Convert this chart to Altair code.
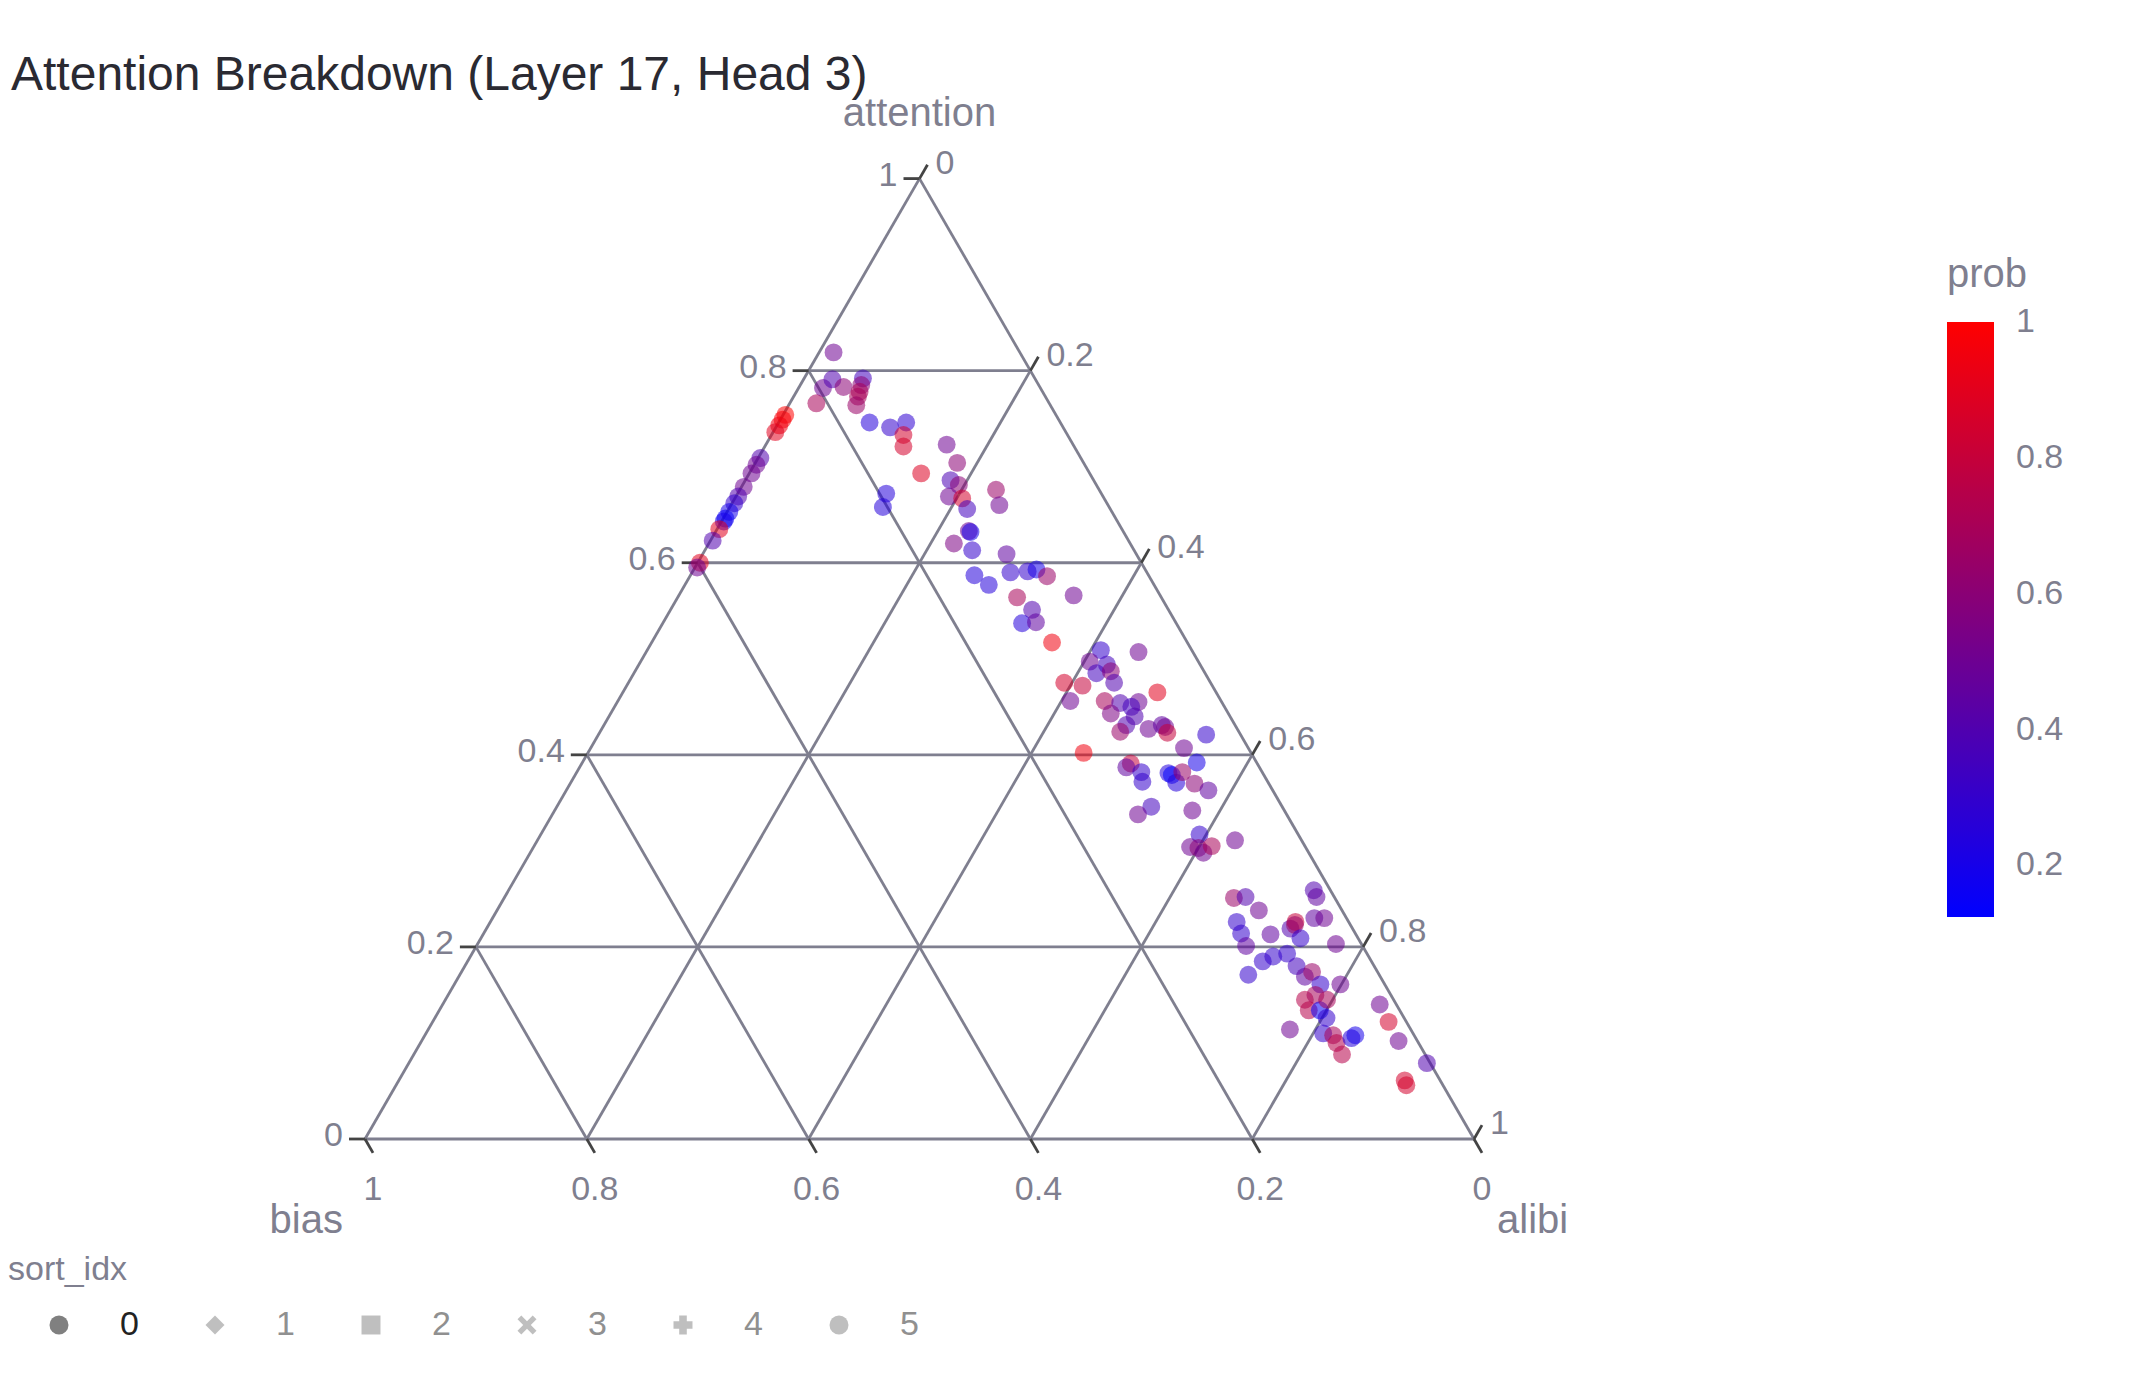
import math
import altair as alt
import pandas as pd

# ---------------- data ----------------
attention = [
    # points along the bias/attention edge
    0.754, 0.749, 0.743, 0.736, 0.709, 0.702, 0.693, 0.679, 0.669, 0.662,
    0.653, 0.646, 0.643, 0.635, 0.623, 0.600, 0.595,
    # upper group
    0.819, 0.782, 0.791, 0.783, 0.766, 0.792, 0.785, 0.778, 0.773, 0.764,
    0.746, 0.741, 0.746, 0.733, 0.721, 0.693, 0.672, 0.658,
    # second group
    0.723, 0.704, 0.686, 0.681, 0.669, 0.667, 0.656, 0.676, 0.660, 0.633,
    0.632, 0.620, 0.613, 0.609, 0.587, 0.577, 0.590, 0.591, 0.593, 0.586,
    0.564, 0.566, 0.551, 0.537, 0.538, 0.517,
    # middle group
    0.509, 0.507, 0.497, 0.494, 0.485, 0.487, 0.475, 0.475, 0.472, 0.465,
    0.456, 0.456, 0.454, 0.455, 0.450, 0.443, 0.440, 0.431, 0.424, 0.427,
    0.431, 0.429, 0.423, 0.421, 0.402, 0.407, 0.392, 0.391, 0.387, 0.382,
    0.372, 0.381, 0.379, 0.371, 0.382, 0.370, 0.363, 0.346, 0.338, 0.342,
    0.317, 0.304, 0.303, 0.298, 0.305, 0.311,
    # lower group
    0.251, 0.252, 0.238, 0.259, 0.252, 0.226, 0.214, 0.201, 0.213, 0.219,
    0.226, 0.223, 0.209, 0.230, 0.230, 0.203, 0.171, 0.185, 0.190, 0.193,
    0.180, 0.169, 0.174, 0.161, 0.161, 0.145, 0.150, 0.134, 0.134, 0.145,
    0.126, 0.114, 0.110, 0.108, 0.100, 0.088, 0.105, 0.108, 0.140, 0.122,
    0.102, 0.079, 0.061, 0.056,
]
alibi = [
    0.002, 0.002, 0.002, 0.002, 0.002, 0.002, 0.002, 0.002, 0.002, 0.002,
    0.002, 0.002, 0.002, 0.002, 0.002, 0.002, 0.002,
    0.013, 0.022, 0.026, 0.040, 0.024, 0.053, 0.055, 0.057, 0.058, 0.061,
    0.082, 0.103, 0.115, 0.119, 0.125, 0.155, 0.134, 0.138,
    0.163, 0.182, 0.185, 0.195, 0.192, 0.205, 0.215, 0.231, 0.242, 0.228,
    0.230, 0.221, 0.241, 0.274, 0.256, 0.274, 0.287, 0.302, 0.309, 0.322,
    0.306, 0.356, 0.326, 0.324, 0.336, 0.361,
    0.409, 0.444, 0.405, 0.422, 0.417, 0.429, 0.438, 0.393, 0.411, 0.482,
    0.408, 0.439, 0.454, 0.470, 0.466, 0.451, 0.474, 0.471, 0.469, 0.493,
    0.503, 0.507, 0.512, 0.548, 0.447, 0.535, 0.554, 0.495, 0.493, 0.509,
    0.515, 0.534, 0.538, 0.546, 0.546, 0.563, 0.579, 0.536, 0.528, 0.575,
    0.594, 0.592, 0.600, 0.607, 0.611, 0.629,
    0.658, 0.668, 0.687, 0.726, 0.732, 0.673, 0.683, 0.694, 0.710, 0.725,
    0.726, 0.727, 0.739, 0.741, 0.750, 0.774, 0.711, 0.717, 0.724, 0.735,
    0.750, 0.763, 0.767, 0.781, 0.799, 0.775, 0.782, 0.784, 0.794, 0.795,
    0.804, 0.777, 0.809, 0.819, 0.826, 0.837, 0.837, 0.839, 0.845, 0.862,
    0.881, 0.918, 0.907, 0.911,
]
prob = [
    1.00, 0.97, 0.95, 0.90, 0.40, 0.50, 0.50, 0.50, 0.40, 0.30,
    0.20, 0.15, 0.20, 0.90, 0.40, 0.90, 0.50,
    0.50, 0.50, 0.40, 0.60, 0.70, 0.35, 0.60, 0.70, 0.70, 0.65,
    0.25, 0.30, 0.28, 0.85, 0.85, 0.88, 0.25, 0.25,
    0.50, 0.60, 0.38, 0.60, 0.50, 0.85, 0.35, 0.65, 0.50, 0.50,
    0.20, 0.55, 0.30, 0.45, 0.25, 0.25, 0.30, 0.30, 0.20, 0.65,
    0.70, 0.50, 0.40, 0.25, 0.45, 0.95,
    0.30, 0.50, 0.50, 0.35, 0.35, 0.60, 0.40, 0.85, 0.80, 0.90,
    0.50, 0.70, 0.40, 0.50, 0.35, 0.55, 0.40, 0.40, 0.65, 0.50,
    0.45, 0.50, 0.80, 0.30, 0.95, 0.50, 0.20, 0.80, 0.45, 0.30,
    0.30, 0.25, 0.124, 0.25, 0.65, 0.60, 0.45, 0.35, 0.50, 0.50,
    0.30, 0.50, 0.60, 0.50, 0.70, 0.50,
    0.65, 0.40, 0.50, 0.40, 0.45, 0.30, 0.30, 0.45, 0.45, 0.40,
    0.80, 0.65, 0.30, 0.45, 0.50, 0.50, 0.30, 0.30, 0.30, 0.30,
    0.35, 0.45, 0.65, 0.30, 0.50, 0.75, 0.70, 0.75, 0.15, 0.70,
    0.30, 0.50, 0.30, 0.70, 0.75, 0.75, 0.25, 0.20, 0.50, 0.85,
    0.50, 0.40, 0.85, 0.85,
]
sort_idx = ["0"] * len(attention)

axis_ticks = [0.0, 0.2, 0.4, 0.6, 0.8, 1.0]
tick_labels = ["0", "0.2", "0.4", "0.6", "0.8", "1"]
grid_values = [0.2, 0.4, 0.6, 0.8]
prob_ticks = [0.2, 0.4, 0.6, 0.8, 1.0]
legend_ids = ["0", "1", "2", "3", "4", "5"]
X_PATH = ("M-1,-0.6L-0.6,-1L0,-0.4L0.6,-1L1,-0.6L0.4,0"
          "L1,0.6L0.6,1L0,0.4L-0.6,1L-1,0.6L-0.4,0Z")
legend_shapes = ["circle", "diamond", "square", X_PATH, "cross", "circle"]
axis_names = ["attention", "bias", "alibi"]
chart_title = "Attention Breakdown (Layer 17, Head 3)"

# ---------------- layout / style ----------------
FONT = "Liberation Sans"
GRAY = "#7f7f8f"
TICK = "#444444"
DARK = "#2a2a32"
MARGIN = 8
W, H = 2126, 1364
X0, Y0, SIDE = 365.0, 1139.0, 1109.0     # triangle bottom-left corner and side (page px)
R3 = math.sqrt(3) / 2
TL = 16.0 / SIDE                          # tick length in ternary units


def to_xy(a, c):
    return c + a / 2.0, a * R3


x_scale = alt.Scale(domain=[(MARGIN - X0) / SIDE, (MARGIN + W - X0) / SIDE], nice=False, zero=False)
y_scale = alt.Scale(domain=[(Y0 - MARGIN - H) / SIDE, (Y0 - MARGIN) / SIDE], nice=False, zero=False)
X = alt.X("x:Q", scale=x_scale, axis=None)
Y = alt.Y("y:Q", scale=y_scale, axis=None)

# ---------------- frames ----------------
pts = pd.DataFrame({"attention": attention, "alibi": alibi, "prob": prob, "sort_idx": sort_idx})
pts["bias"] = 1 - pts["attention"] - pts["alibi"]
pts["x"] = pts["alibi"] + pts["attention"] / 2.0
pts["y"] = pts["attention"] * R3


def seg(p, q):
    return {"x": p[0], "y": p[1], "x2": q[0], "y2": q[1]}


grid_rows = []
for v in grid_values:
    grid_rows.append(seg(to_xy(v, 0), to_xy(v, 1 - v)))      # attention = v
    grid_rows.append(seg(to_xy(0, 1 - v), to_xy(1 - v, 0)))  # bias = v
    grid_rows.append(seg(to_xy(0, v), to_xy(1 - v, v)))      # alibi = v
grid_rows.append(seg(to_xy(0, 0), to_xy(0, 1)))
grid_rows.append(seg(to_xy(0, 0), to_xy(1, 0)))
grid_rows.append(seg(to_xy(0, 1), to_xy(1, 0)))
grid_df = pd.DataFrame(grid_rows)

tick_rows, att_lab, bias_lab, alibi_lab = [], [], [], []
for v, lab in zip(axis_ticks, tick_labels):
    pa = to_xy(v, 0)
    tick_rows.append(seg(pa, (pa[0] - TL, pa[1])))
    att_lab.append({"x": pa[0], "y": pa[1], "label": lab})
    pb = to_xy(0, 1 - v)
    tick_rows.append(seg(pb, (pb[0] + TL * 0.5, pb[1] - TL * R3)))
    bias_lab.append({"x": pb[0], "y": pb[1], "label": lab})
    pc = to_xy(1 - v, v)
    tick_rows.append(seg(pc, (pc[0] + TL * 0.5, pc[1] + TL * R3)))
    alibi_lab.append({"x": pc[0], "y": pc[1], "label": lab})
tick_df = pd.DataFrame(tick_rows)

corner = [to_xy(1, 0), to_xy(0, 0), to_xy(0, 1)]
titles_df = [pd.DataFrame([{"x": corner[i][0], "y": corner[i][1], "label": axis_names[i]}]) for i in range(3)]

# ---------------- layers ----------------
grid = alt.Chart(grid_df).mark_rule(color=GRAY, strokeWidth=2.8).encode(x=X, y=Y, x2="x2:Q", y2="y2:Q")
ticks = alt.Chart(tick_df).mark_rule(color=TICK, strokeWidth=2.8).encode(x=X, y=Y, x2="x2:Q", y2="y2:Q")

txt = dict(fontSize=34, color=GRAY, baseline="alphabetic")
att_text = alt.Chart(pd.DataFrame(att_lab)).mark_text(align="right", dx=-22, dy=7, **txt).encode(x=X, y=Y, text="label:N")
bias_text = alt.Chart(pd.DataFrame(bias_lab)).mark_text(align="center", dx=8, dy=61, **txt).encode(x=X, y=Y, text="label:N")
alibi_text = alt.Chart(pd.DataFrame(alibi_lab)).mark_text(align="left", dx=16, dy=-5, **txt).encode(x=X, y=Y, text="label:N")

ttl = dict(fontSize=40, color=GRAY, baseline="alphabetic")
att_title = alt.Chart(titles_df[0]).mark_text(align="center", dy=-53, **ttl).encode(x=X, y=Y, text="label:N")
bias_title = alt.Chart(titles_df[1]).mark_text(align="right", dx=-22, dy=94, **ttl).encode(x=X, y=Y, text="label:N")
alibi_title = alt.Chart(titles_df[2]).mark_text(align="left", dx=23, dy=94, **ttl).encode(x=X, y=Y, text="label:N")

points = alt.Chart(pts).mark_point(filled=True, size=320, opacity=1, fillOpacity=0.55, strokeWidth=0).encode(
    x=X,
    y=Y,
    color=alt.Color(
        "prob:Q",
        scale=alt.Scale(domain=[0.124, 1.0005], range=["#0000ff", "#ff0000"], interpolate="rgb"),
        legend=alt.Legend(
            title="prob", orient="none", direction="vertical", legendX=1939, legendY=247,
            gradientLength=595, gradientThickness=47, gradientStrokeWidth=0,
            values=prob_ticks, format="~g", labelOverlap=False,
            labelFontSize=34, labelColor=GRAY, labelOffset=22,
            titleFontSize=40, titleColor=GRAY, titleFontWeight="normal", titlePadding=27, padding=0,
        ),
    ),
    shape=alt.Shape(
        "sort_idx:N",
        scale=alt.Scale(domain=legend_ids, range=legend_shapes),
        legend=alt.Legend(
            title="sort_idx", orient="none", direction="horizontal", legendX=0, legendY=1245,
            symbolSize=360, symbolOffset=34, symbolFillColor="#808080", symbolStrokeWidth=0,
            symbolOpacity=alt.ExprRef(expr="datum.value == '0' ? 1 : 0.5"),
            labelColor=alt.ExprRef(expr="datum.value == '0' ? '#222222' : '#909090'"),
            labelFontSize=34, labelOffset=44, columnPadding=25,
            titleFontSize=34, titleColor=GRAY, titleFontWeight="normal", titlePadding=21, padding=0,
        ),
    ),
    tooltip=["attention:Q", "bias:Q", "alibi:Q", "prob:Q"],
)

title = alt.Chart(pd.DataFrame({"label": [chart_title]})).mark_text(
    align="left", baseline="alphabetic", fontSize=48, color=DARK
).encode(x=alt.value(3), y=alt.value(82), text="label:N")

chart = alt.layer(
    grid, ticks, att_text, bias_text, alibi_text, att_title, bias_title, alibi_title, points, title
).properties(
    width=W, height=H, padding=0, autosize=alt.AutoSizeParams(type="none")
).configure(font=FONT).configure_view(stroke=None)

chart.save("out.html", embed_options={"renderer": "svg", "actions": False})
